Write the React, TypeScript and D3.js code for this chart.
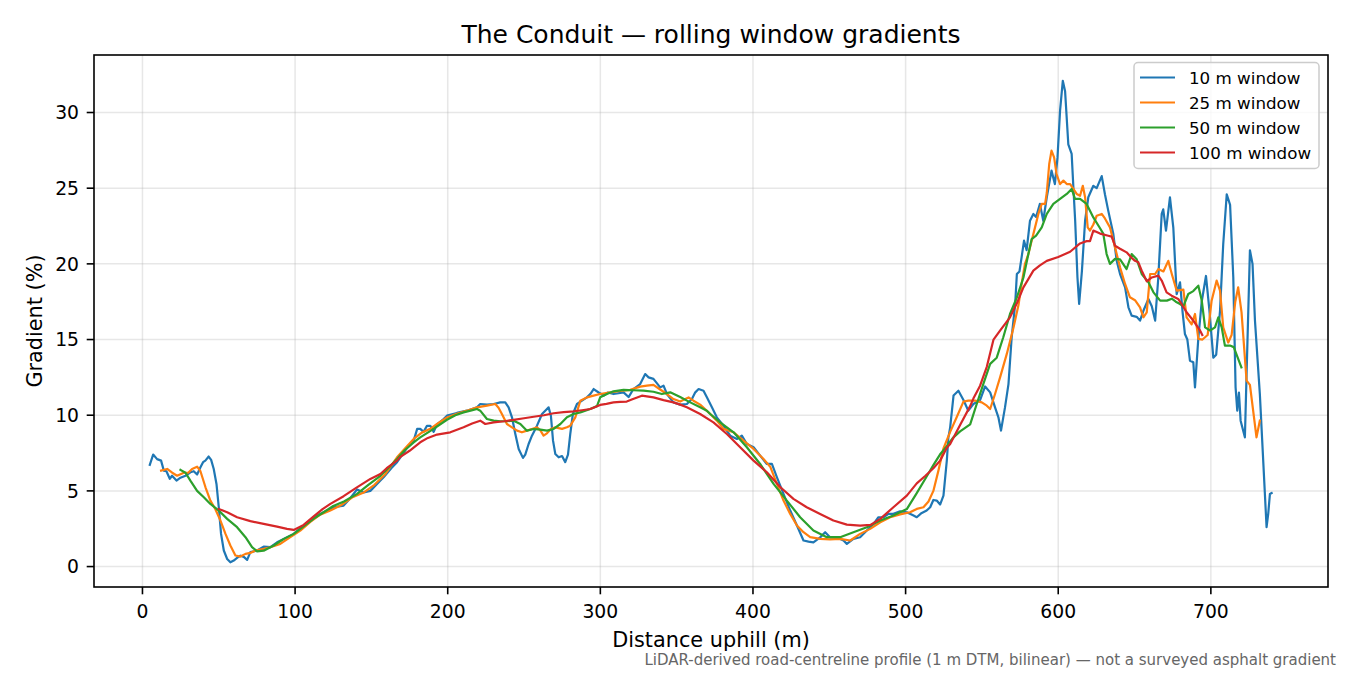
import React from "react";
import * as d3 from "d3";

type P = [number, number];

const xTicks = [0, 100, 200, 300, 400, 500, 600, 700];
const yTicks = [0, 5, 10, 15, 20, 25, 30];
const seriesNames = ["10 m window", "25 m window", "50 m window", "100 m window"];
const seriesColors = ["#1f77b4", "#ff7f0e", "#2ca02c", "#d62728"];

const win10: P[] = [[4.8,6.72],[7,7.4],[9.6,7.1],[12.2,7.0],[14,6.34],[15.7,6.3],[17.9,5.8],[19.4,6.0],[22.3,5.68],[24.9,5.87],[28.2,6.0],[31.4,6.23],[33.6,6.3],[35.8,6.08],[38,6.56],[39.7,6.9],[41.2,7.0],[43.4,7.27],[45,7.05],[46.7,6.45],[48.5,5.46],[50,3.92],[51.5,2.16],[53.3,1.06],[55.5,0.5],[57.6,0.28],[59.8,0.4],[62,0.57],[64.2,0.72],[66.4,0.64],[68.6,0.44],[70.7,0.95],[75.1,1.06],[79.4,1.32],[83.8,1.28],[88.2,1.6],[92.6,1.83],[99.1,2.16],[105.6,2.7],[112.2,3.26],[118.7,3.59],[125.3,3.92],[131.8,4.03],[136,4.5],[140.6,5.1],[145,4.9],[149.3,5.0],[155.9,5.68],[158,5.9],[163,6.5],[166.8,6.9],[169,7.22],[173,7.8],[177.7,8.32],[180,9.1],[182,9.1],[184.2,8.9],[186.4,9.3],[188.6,9.3],[190.8,8.9],[193,9.4],[197.3,9.75],[199.5,9.97],[206,10.15],[212.6,10.3],[219.2,10.52],[221.3,10.74],[225.7,10.7],[230.1,10.74],[234.4,10.85],[237.7,10.85],[239.9,10.52],[242.1,9.86],[244.3,8.76],[246.5,7.77],[249.3,7.18],[250.8,7.4],[253,8.1],[255.2,8.65],[258.5,9.31],[261.8,10.08],[263.9,10.3],[266.1,10.52],[267.6,9.97],[269,8.32],[270.5,7.44],[272.7,7.22],[274.9,7.3],[277,6.9],[278.8,7.4],[280.3,8.76],[282,10.08],[284.7,10.74],[288,10.96],[291.2,11.18],[293.4,11.4],[295.6,11.73],[298.9,11.5],[302.2,11.3],[305,11.5],[308.6,11.4],[315.2,11.51],[318.5,11.2],[321.7,11.73],[326.1,12.06],[329.4,12.72],[331.6,12.5],[334.8,12.4],[339.2,11.84],[341.4,11.95],[343.6,11.4],[347.9,10.85],[352.3,10.7],[356.7,10.74],[360,11.07],[362.2,11.51],[364.4,11.73],[367.6,11.62],[369.8,11.18],[373.1,10.52],[376.3,9.86],[380.7,9.31],[385.1,8.65],[389.5,8.43],[392.7,8.65],[396,8.1],[400.4,7.88],[404.7,7.33],[409.1,6.78],[412.4,6.78],[415.7,5.9],[420,4.8],[424.4,3.7],[428.8,2.71],[433.1,1.72],[436.4,1.65],[439.6,1.6],[444,1.93],[447.3,2.27],[450.5,1.93],[454.9,1.94],[459.3,1.72],[461.5,1.5],[465.8,1.83],[470.2,1.94],[474.6,2.38],[479,2.82],[482.2,3.26],[485.5,3.26],[488.8,3.48],[492,3.48],[496.4,3.65],[500.8,3.59],[505.2,3.37],[507.3,3.26],[510,3.5],[513.8,3.7],[516.1,3.92],[518.2,4.4],[520.4,4.36],[522.6,4.1],[524.8,4.69],[527,7.0],[528,8.5],[529.2,9.2],[531.4,11.3],[534.6,11.62],[537.9,11.0],[541.1,10.3],[544.4,10.74],[548.8,11.0],[552.1,11.9],[555.4,11.51],[558.6,10.52],[560.8,9.86],[562.5,8.98],[565.1,10.5],[567.4,12.06],[569.5,15.15],[571.8,17.35],[572.9,19.33],[574.6,19.5],[576,20.43],[577.6,21.53],[579.3,20.9],[581.5,22.85],[583.7,23.3],[585.5,23.1],[588,23.96],[590.2,22.85],[592.5,24.4],[595.6,26.16],[597.8,25.27],[599.5,27],[601.2,30.12],[603,32.1],[604.5,31.4],[606.6,27.9],[608.8,27.26],[609.9,25.1],[611.1,22.85],[612.6,19.1],[613.7,17.35],[615.5,19.5],[617.6,22.85],[619.7,24.4],[623,25.16],[625.2,25.0],[628.5,25.8],[630.6,24.6],[632.8,23.5],[636.1,21.97],[638.3,20.2],[640.5,19.33],[643.8,18.45],[646,17.13],[648.1,16.58],[651.4,16.5],[653.6,16.25],[655.8,16.9],[659.1,17.68],[661.3,17.2],[663.5,16.25],[665.5,19],[667.8,23.3],[668.8,23.6],[670.6,22.2],[673.2,24.4],[675.4,22.4],[677.6,18.0],[679.8,18.78],[681.5,16.8],[683,15.37],[684.6,15.0],[686.3,13.6],[688.5,13.5],[689.6,11.84],[691.8,15.1],[694,17.5],[696.8,19.2],[699,17],[701.6,13.8],[703.5,14],[706,16.9],[708.1,21.3],[710.4,24.6],[712.6,23.9],[714.7,19.1],[716.2,11.84],[717.3,10.3],[718.4,11.5],[719.5,9.64],[722.3,8.54],[723.4,12.7],[725.6,20.9],[727.3,20],[728.9,16.25],[732.1,11.4],[734.3,7.0],[736.5,2.6],[737.6,3.5],[738.7,4.8],[739.8,4.86]];

const win25: P[] = [[12.2,6.34],[16.2,6.45],[19.5,6.2],[22.7,6.0],[27.1,6.2],[30,6.2],[32.5,6.45],[35.8,6.6],[38,6.3],[41.3,5.24],[44.5,4.36],[47.7,3.8],[51.1,3.04],[54.4,2.16],[57.6,1.39],[60.9,0.73],[64.2,0.66],[67.5,0.84],[70.7,0.9],[74,1.06],[79.4,1.17],[83.8,1.28],[90.3,1.5],[96.9,1.94],[103.4,2.38],[110,2.95],[116,3.4],[123.1,3.7],[130,4.05],[138,4.6],[145,4.9],[152,5.4],[159,6.1],[166.8,7.22],[172,7.8],[177.7,8.43],[183,8.85],[188.6,9.1],[193,9.42],[199.5,9.85],[206,10.1],[212.6,10.3],[219.2,10.52],[225.7,10.63],[231.2,10.74],[233.3,10.5],[235.5,10.08],[238.8,9.42],[242.1,9.2],[245.4,8.98],[248.6,8.87],[251.9,8.98],[255.2,9.09],[258.5,9.2],[260.7,9.0],[262.8,8.65],[265,8.8],[267.6,9.09],[270.5,9.2],[274.9,9.1],[278.1,9.2],[280.3,9.31],[283.6,9.86],[286.9,10.96],[291.2,11.18],[295.6,11.29],[299.9,11.4],[306.5,11.51],[313,11.6],[319.6,11.68],[326.1,11.89],[330.5,11.95],[334.8,12.0],[339.2,11.7],[343.6,11.4],[347.9,11.07],[352.3,10.9],[357.8,11.18],[361,10.96],[365.4,10.7],[372,10.08],[376.3,9.64],[380.7,9.1],[387.3,8.87],[393.8,8.32],[400.4,7.77],[406.9,7.11],[411.3,6.6],[415.7,5.46],[420,4.36],[424.4,3.48],[428.8,2.71],[433.1,2.27],[437.5,1.94],[444,1.83],[450.5,1.8],[457.1,1.83],[463.7,1.72],[470.2,2.16],[476.8,2.49],[483.4,2.93],[489.9,3.26],[496.4,3.45],[502.9,3.59],[507.3,3.81],[511.7,3.92],[515,4.3],[518.2,5.0],[521.5,6.34],[524.8,7.8],[529.2,8.9],[533.6,9.9],[537.9,10.9],[541.1,10.96],[545.6,10.96],[549.9,10.85],[553.2,10.63],[555.4,10.41],[558.6,11.4],[561.9,12.5],[566.3,14.05],[570.7,15.8],[574,17.3],[576,18.67],[578.2,20.0],[580.4,20.63],[582.6,21.53],[584.8,22.41],[587,23.3],[589.2,23.96],[591.4,23.96],[592.5,24.7],[594.1,26.6],[595.6,27.48],[597.3,27.04],[598.9,25.93],[601.2,25.27],[603.4,25.5],[605.6,25.27],[607.8,25.27],[609.9,24.95],[612.1,24.62],[614.3,24.5],[616.1,25.16],[617.6,24.4],[619.3,22.41],[620.8,22.2],[623,22.6],[625.2,23.18],[628.5,23.3],[630.6,23.0],[633.9,22.41],[637.2,21.1],[640.5,19.77],[643.8,18.67],[647,17.79],[650.3,17.6],[653.6,17.13],[655.8,16.47],[658,16.8],[660.2,19.33],[663.5,19.33],[665.6,19.66],[668.9,19.5],[672.1,20.2],[674.5,19.3],[677.6,18.23],[682,18.3],[684.1,16.47],[687.4,16.0],[689.6,16.69],[691.8,15.04],[694.5,15.0],[697.9,15.3],[700.5,17.57],[703.8,18.9],[706,18.23],[708.1,15.8],[711.4,14.8],[713.6,15.3],[716,17.5],[717.9,18.45],[720.1,16.8],[723.4,12.29],[725.6,12.0],[729.9,8.54],[732.1,9.64]];

const win50: P[] = [[24.9,6.39],[28.2,6.2],[31.4,5.68],[35.8,5.0],[40.2,4.58],[44.5,4.14],[50,3.7],[55.5,3.15],[62,2.6],[67.5,1.94],[71.8,1.28],[75.1,1.01],[79.4,1.05],[86,1.39],[92.6,1.83],[99.1,2.16],[105.6,2.65],[112,3.15],[118.7,3.59],[125,4.0],[132,4.3],[140.6,4.8],[148,5.4],[155.9,6.0],[162,6.6],[166.8,7.11],[172,7.7],[177.7,8.2],[182,8.54],[190,9.05],[199.5,9.7],[205,10.0],[210.4,10.19],[215,10.3],[219.2,10.41],[221.3,10.3],[225.7,9.75],[230.1,9.64],[234.4,9.6],[238,9.6],[243.2,9.64],[247.6,9.42],[251.9,8.98],[256.3,9.09],[260.7,9.05],[265,8.98],[269.4,9.09],[273.8,9.42],[278.1,9.86],[282.5,10.08],[286.9,10.19],[293.4,10.41],[297.8,10.6],[299.9,11.18],[304.3,11.4],[308.6,11.58],[315.2,11.68],[321.7,11.65],[328.3,11.62],[334.8,11.55],[340.3,11.4],[345.8,11.51],[352.3,11.2],[358.9,10.85],[365.4,10.52],[369.8,10.3],[372,10.08],[378.5,9.53],[387.3,8.87],[396,7.88],[404.7,6.78],[413.5,5.46],[422.2,4.36],[430.9,3.26],[439.6,2.38],[448.4,1.94],[457.1,1.94],[465.8,2.27],[474.6,2.6],[483.4,3.04],[492,3.37],[500.8,3.8],[507,4.8],[513.5,5.9],[518.2,6.7],[522.5,7.4],[527,7.95],[531,8.5],[535.7,8.93],[542.3,9.4],[546.6,10.74],[550.9,12.06],[555.4,13.39],[559.7,13.8],[564,15.15],[568.4,16.69],[572.9,17.79],[577.2,19.1],[580.4,20.63],[582.6,21.64],[585.5,21.86],[589.2,22.41],[592.5,23.3],[596.8,23.96],[601.2,24.29],[605.6,24.62],[608.8,24.95],[611,24.3],[614.3,24.29],[618.6,23.96],[623,23.07],[627.4,22.35],[629.5,22.0],[631.7,20.65],[633.9,20.0],[637.2,20.33],[640.5,20.3],[644.8,19.66],[648.1,20.65],[651.4,20.3],[654.7,19.33],[659.1,18.78],[662.4,18.12],[666.8,17.57],[671.2,17.57],[674.4,17.7],[677,17.5],[679.8,17.35],[682,17.2],[685.2,18.01],[688.5,18.2],[691.8,18.56],[694,17.6],[696.2,15.8],[699.5,15.6],[702.7,15.8],[704.9,16.47],[707.1,15.8],[709.2,14.6],[712.5,14.6],[715,14.5],[720,13.16]];

const win100: P[] = [[50,3.81],[55.5,3.59],[62,3.26],[70.7,3.0],[79.4,2.82],[88.2,2.64],[94.7,2.49],[99.1,2.42],[105.6,2.75],[112,3.3],[118,3.8],[123.1,4.14],[131.8,4.65],[140,5.2],[149.3,5.79],[155.9,6.12],[160,6.5],[166.8,7.0],[169,7.25],[175,7.65],[182,8.21],[187,8.5],[193,8.72],[201.7,8.87],[210.4,9.2],[216,9.45],[221.3,9.64],[224.6,9.42],[230.1,9.53],[237,9.6],[243.2,9.69],[250,9.8],[256.3,9.9],[263,10.0],[269.4,10.13],[276,10.2],[282.5,10.26],[288,10.33],[293.4,10.41],[299.9,10.68],[304,10.75],[308.6,10.85],[313,10.88],[317.3,10.9],[321,11.05],[327.2,11.29],[334.8,11.18],[341.4,11.0],[347.9,10.85],[352.3,10.7],[356.7,10.52],[365.4,10.08],[374.1,9.53],[382.9,8.76],[391.6,7.88],[400.4,7.0],[409.1,6.23],[418,5.24],[426.5,4.47],[435.2,3.92],[444,3.48],[452.7,3.04],[461.5,2.77],[470.2,2.71],[477,2.75],[483.4,3.15],[492,3.92],[500.8,4.69],[507.3,5.5],[513,6.0],[518.2,6.5],[522.6,7.0],[527,7.85],[529.2,8.1],[535.7,9.35],[542.3,10.6],[544.4,11.1],[548.8,11.95],[553.2,13.2],[557.6,15.0],[562,15.6],[568.4,16.47],[572.9,17.4],[577.2,18.45],[583.7,19.55],[588,19.9],[592.5,20.2],[600,20.45],[607.8,20.8],[614.3,21.35],[618.6,21.5],[620.8,21.5],[623,22.2],[627.4,22.0],[632.8,21.86],[635,21.8],[637.2,21.2],[640.5,21.0],[644.8,20.76],[648.1,20.4],[650.3,20.2],[652.5,20.1],[654.7,19.55],[658,18.85],[661.3,19.1],[665.6,19.22],[667.8,18.9],[671,18.12],[674.3,17.9],[678.6,17.68],[680.8,17.35],[684.1,16.8],[688.5,16.25],[692.9,15.6],[694.4,15.3]];

const allSeries = [win10, win25, win50, win100];

const W = 1350, H = 675;
const L = 94, R = 1328, T = 55, B = 587;
const FONT = "DejaVu Sans, sans-serif";

export default function App() {
  const x = d3.scaleLinear().domain([-31.75, 776.75]).range([L, R]);
  const y = d3.scaleLinear().domain([-1.35, 33.8]).range([B, T]);
  const line = d3.line<P>().x(d => x(d[0])).y(d => y(d[1]));
  const tickLen = 7.3;

  return (
    <div style={{ position: "fixed", left: 0, top: 0, width: W, height: H, background: "#fff" }}>
      <svg width={W} height={H} style={{ display: "block" }} fontFamily={FONT}>
        <rect x={0} y={0} width={W} height={H} fill="#fff" />
        <g stroke="#b0b0b0" strokeOpacity={0.3} strokeWidth={1.5}>
          {xTicks.map(t => <line key={"gx" + t} x1={x(t)} x2={x(t)} y1={T} y2={B} />)}
          {yTicks.map(t => <line key={"gy" + t} x1={L} x2={R} y1={y(t)} y2={y(t)} />)}
        </g>
        <defs>
          <clipPath id="plotclip"><rect x={L} y={T} width={R - L} height={B - T} /></clipPath>
        </defs>
        <g clipPath="url(#plotclip)" fill="none" strokeLinejoin="round" strokeLinecap="square">
          {allSeries.map((s, i) => (
            <path key={i} d={line(s) || ""} stroke={seriesColors[i]} strokeWidth={2.2} />
          ))}
        </g>
        <rect x={L} y={T} width={R - L} height={B - T} fill="none" stroke="#000" strokeWidth={1.6} />
        <g>
          {xTicks.map(t => (
            <g key={"xt" + t}>
              <line x1={x(t)} x2={x(t)} y1={B} y2={B + tickLen} stroke="#000" strokeWidth={1.6} />
              <text x={x(t)} y={618} fontSize={18.75} textAnchor="middle" fill="#000">{t}</text>
            </g>
          ))}
        </g>
        <g>
          {yTicks.map(t => (
            <g key={"yt" + t}>
              <line x1={L - tickLen} x2={L} y1={y(t)} y2={y(t)} stroke="#000" strokeWidth={1.6} />
              <text x={79} y={y(t) + 6.8} fontSize={18.75} textAnchor="end" fill="#000">{t}</text>
            </g>
          ))}
        </g>
        <text x={(L + R) / 2} y={647} fontSize={20.8} textAnchor="middle" fill="#000">Distance uphill (m)</text>
        <text transform={`translate(41.5, ${(T + B) / 2}) rotate(-90)`} fontSize={20.8} textAnchor="middle" fill="#000">Gradient (%)</text>
        <text x={(L + R) / 2} y={43} fontSize={25} textAnchor="middle" fill="#000">The Conduit — rolling window gradients</text>
        <text x={1336} y={665} fontSize={15} textAnchor="end" fill="#666">LiDAR-derived road-centreline profile (1 m DTM, bilinear) — not a surveyed asphalt gradient</text>
        <g>
          <rect x={1134} y={62.5} width={185} height={106} rx={4} ry={4} fill="#fff" fillOpacity={0.8} stroke="#cccccc" strokeWidth={1.5} />
          {seriesNames.map((n, i) => {
            const cy = 77.5 + i * 25;
            return (
              <g key={n}>
                <line x1={1140} x2={1175} y1={cy} y2={cy} stroke={seriesColors[i]} strokeWidth={2.2} />
                <text x={1189} y={cy + 6} fontSize={16.7} fill="#000">{n}</text>
              </g>
            );
          })}
        </g>
      </svg>
    </div>
  );
}
